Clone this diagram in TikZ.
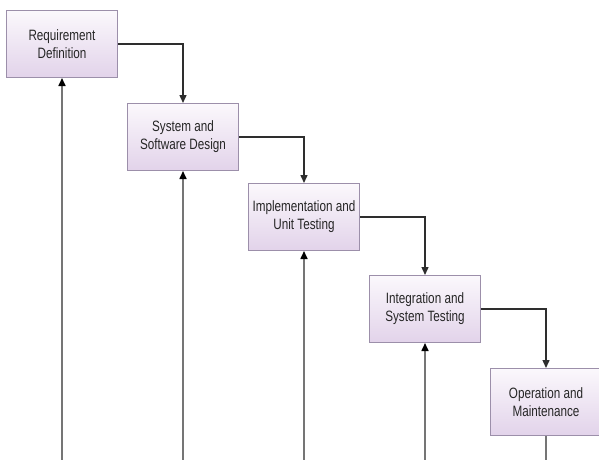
\documentclass[tikz,border=0pt]{standalone}
\usepackage{fontspec}
\setmainfont{Liberation Sans}[FakeStretch=0.78]
\usetikzlibrary{arrows.meta}
\definecolor{boxline}{HTML}{9C8FAA}
\definecolor{boxtop}{HTML}{FBF8FC}
\definecolor{boxbottom}{HTML}{E2D3EA}
\definecolor{flowline}{HTML}{2E2E2E}
\definecolor{backline}{HTML}{757575}
\definecolor{labeltext}{HTML}{262626}
\begin{document}
\begin{tikzpicture}[x=1pt,y=-1pt,
  phase/.style={draw=boxline, line width=1pt, top color=boxtop, bottom color=boxbottom,
    minimum width=111pt, minimum height=67pt, inner sep=0pt, align=center,
    anchor=north west, text=labeltext, font=\fontsize{15}{18}\selectfont},
  flow/.style={draw=flowline, line width=1.4pt, -{Triangle[length=8pt,width=7pt]}},
  feedback/.style={draw=backline, line width=1.6pt, -{Triangle[length=8pt,width=7pt,color=black]}},
  tail/.style={draw=backline, line width=1.6pt}]
\useasboundingbox (0,0) rectangle (599,459);
\coordinate (base) at (0,461);

\node[phase] (r1) at (6,10)   {Requirement\\Definition};
\node[phase] (r2) at (127,103) {System and\\Software Design};
\node[phase] (r3) at (248,183) {Implementation and\\Unit Testing};
\node[phase] (r4) at (369,275) {Integration and\\System Testing};
\node[phase] (r5) at (490,368) {Operation and\\Maintenance};

% forward flow between phases
\draw[flow] (r1.east) -| (r2.north);
\draw[flow] (r2.east) -| (r3.north);
\draw[flow] (r3.east) -| (r4.north);
\draw[flow] (r4.east) -| (r5.north);

% feedback lines rising from the bottom edge
\coordinate (b1) at (r1.south |- base);
\coordinate (b2) at (r2.south |- base);
\coordinate (b3) at (r3.south |- base);
\coordinate (b4) at (r4.south |- base);
\coordinate (b5) at (r5.south |- base);
\draw[feedback] (b1) -- (r1.south);
\draw[feedback] (b2) -- (r2.south);
\draw[feedback] (b3) -- (r3.south);
\draw[feedback] (b4) -- (r4.south);
\draw[tail] (r5.south) -- (b5);
\end{tikzpicture}
\end{document}
